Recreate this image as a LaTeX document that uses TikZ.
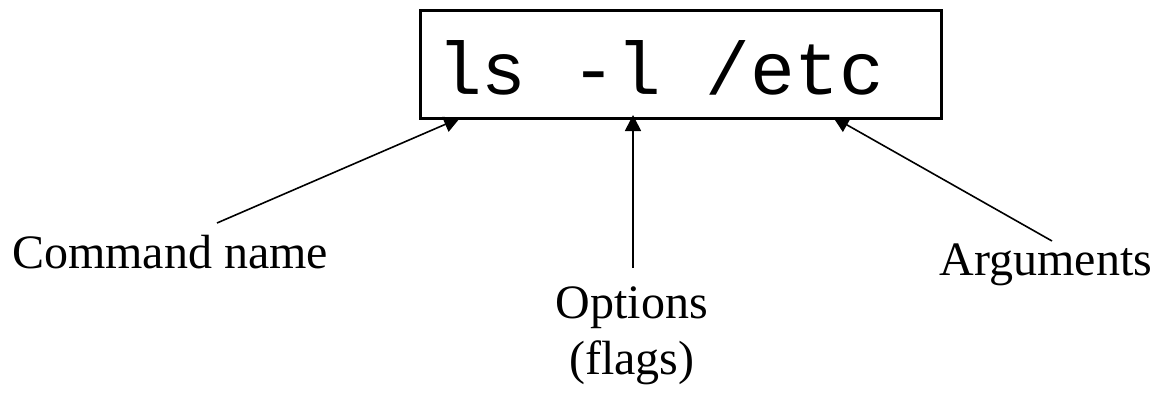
\documentclass[tikz,border=0pt]{standalone}
\usepackage{fontspec}
\setmainfont{Liberation Serif}
\setmonofont{Liberation Mono}
\usetikzlibrary{arrows.meta}
\begin{document}
\begin{tikzpicture}[x=1pt,y=-1pt,
  lbl/.style={font=\fontsize{48}{56}\selectfont, inner sep=0pt},
  ptr/.style={line width=1.6pt, -{Triangle[length=16pt,width=16pt]}}]
\useasboundingbox (0,0) rectangle (1157,396);
\draw[line width=3pt] (420,11) rectangle (941,118);
\node[anchor=base west, inner sep=0pt, font=\ttfamily\fontsize{74.5}{80}\selectfont] (cmd) at (437,95) {ls -l /etc};
\coordinate (tname) at (460,118);
\coordinate (topt) at (633,115);
\coordinate (targ) at (833,117);
\coordinate (sname) at (217,223);
\coordinate (sopt) at (633,268);
\coordinate (sarg) at (1052,241);
\node[lbl, anchor=base] (name) at (170,268) {Command name};
\node[lbl, anchor=base] (opt) at (632,318) {Options};
\node[lbl, anchor=base] (flags) at (632,374) {(flags)};
\node[lbl, anchor=base] (args) at (1046,275) {Arguments};
\draw[ptr] (sname) -- (tname);
\draw[ptr] (sopt) -- (topt);
\draw[ptr] (sarg) -- (targ);
\end{tikzpicture}
\end{document}
